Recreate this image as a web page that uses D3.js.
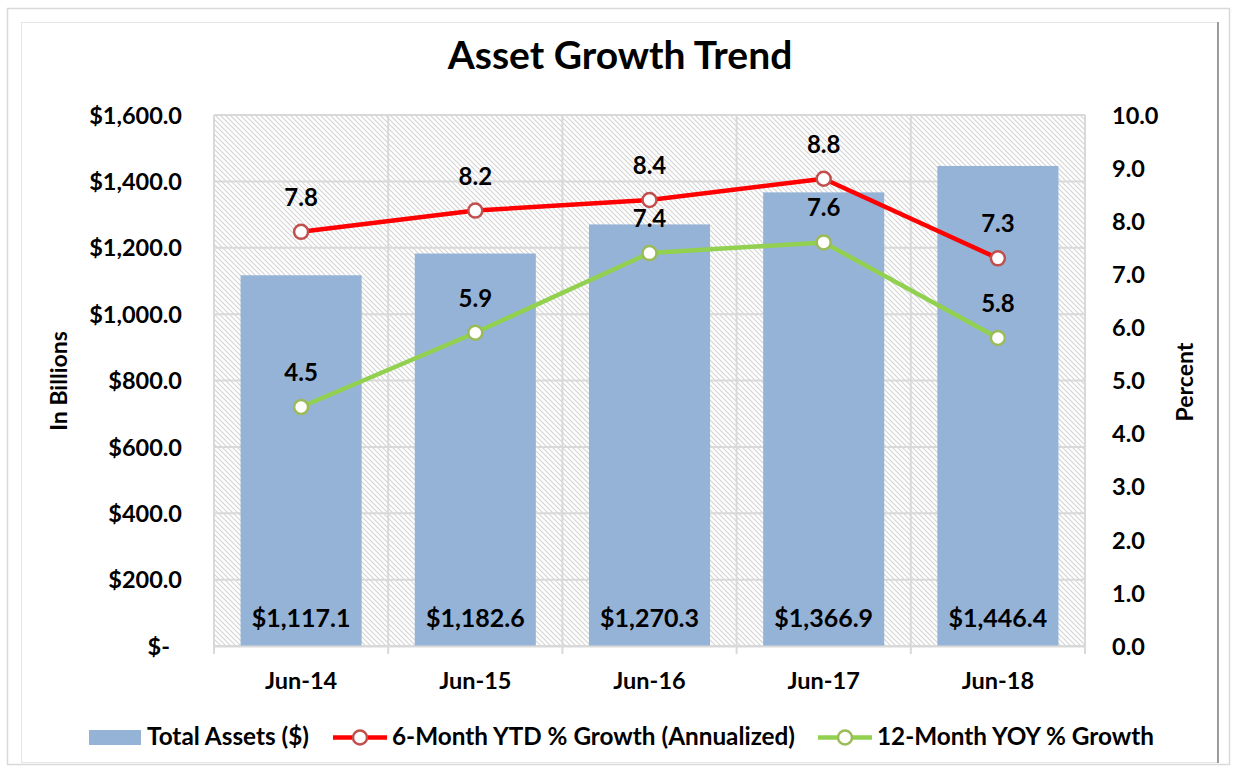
<!DOCTYPE html>
<html><head><meta charset="utf-8">
<script src="https://cdn.jsdelivr.net/npm/d3@7"></script>
<style>
html,body{margin:0;padding:0;background:#fff;}
svg text{font-family:Lato,"Open Sans",sans-serif;font-weight:bold;fill:#000;}
</style></head>
<body><svg id="c" width="1237" height="773"></svg>
<script>
const categories = ["Jun-14","Jun-15","Jun-16","Jun-17","Jun-18"];
const totalAssets = [1117.1, 1182.6, 1270.3, 1366.9, 1446.4];
const ytdGrowth = [7.8, 8.2, 8.4, 8.8, 7.3];
const yoyGrowth = [4.5, 5.9, 7.4, 7.6, 5.8];
const leftTicks = [0,200,400,600,800,1000,1200,1400,1600];
const rightTicks = [0,1,2,3,4,5,6,7,8,9,10];
const seriesNames = ["Total Assets ($)","6-Month YTD % Growth (Annualized)","12-Month YOY % Growth"];

const FS = 23.5;
const svg = d3.select("#c");
// frame
svg.append("rect").attr("x",7.5).attr("y",8.5).attr("width",1222).attr("height",756).attr("fill","#fff").attr("stroke","#d9d9d9").attr("stroke-width",1.5);
svg.append("rect").attr("x",21.5).attr("y",22.5).attr("width",1196).attr("height",740).attr("fill","#fff").attr("stroke","#e6e6e6").attr("stroke-width",1);
svg.append("line").attr("x1",1218).attr("x2",1218).attr("y1",22).attr("y2",763).attr("stroke","#7f7f7f").attr("stroke-width",1.5);

const m={l:214,r:1085,t:115,b:646};
const x=d3.scaleBand().domain(categories).range([m.l,m.r]).paddingInner(0.305).paddingOuter(0.1525);
const xb=d3.scaleBand().domain(categories).range([m.l,m.r]);
const yL=d3.scaleLinear().domain([0,1600]).range([m.b,m.t]);
const yR=d3.scaleLinear().domain([0,10]).range([m.b,m.t]);

// hatch pattern
const defs=svg.append("defs");
const pat=defs.append("pattern").attr("id","hatch").attr("patternUnits","userSpaceOnUse").attr("width",5).attr("height",5);
pat.append("rect").attr("width",5).attr("height",5).attr("fill","#fff");
pat.append("path").attr("d","M-1,-1 L6,6 M-1,4 L1,6 M4,-1 L6,1").attr("stroke","#d4d4d4").attr("stroke-width",1.1);
svg.append("rect").attr("x",m.l).attr("y",m.t).attr("width",m.r-m.l).attr("height",m.b-m.t).attr("fill","url(#hatch)");

// gridlines
svg.append("g").selectAll("line").data(leftTicks).join("line")
  .attr("x1",m.l).attr("x2",m.r).attr("y1",d=>yL(d)).attr("y2",d=>yL(d))
  .attr("stroke","#d9d9d9").attr("stroke-width",2);
const bounds=categories.map(c=>xb(c)).concat([m.r]);
svg.append("g").selectAll("line").data(bounds).join("line")
  .attr("x1",d=>d).attr("x2",d=>d).attr("y1",m.t).attr("y2",m.b+8)
  .attr("stroke","#d9d9d9").attr("stroke-width",2);

// bars
svg.append("g").selectAll("rect").data(totalAssets).join("rect")
  .attr("x",(d,i)=>x(categories[i])).attr("width",x.bandwidth())
  .attr("y",d=>yL(d)).attr("height",d=>m.b-yL(d)).attr("fill","#95B3D7");
svg.append("g").selectAll("text").data(totalAssets).join("text")
  .attr("x",(d,i)=>xb(categories[i])+xb.bandwidth()/2).attr("y",627)
  .attr("text-anchor","middle").attr("font-size",25)
  .text(d=>"$"+d3.format(",.1f")(d));

// axes
const gL=svg.append("g").attr("transform",`translate(${m.l},0)`)
  .call(d3.axisLeft(yL).tickValues(leftTicks).tickSize(0).tickPadding(32)
  .tickFormat(d=>d===0?"$-":"$"+d3.format(",.1f")(d)));
gL.select(".domain").remove();
gL.selectAll("text").attr("font-size",FS).attr("font-family",null).attr("dy","0.35em");
gL.selectAll(".tick").filter(d=>d===0).select("text").attr("dx",-12);

const gR=svg.append("g").attr("transform",`translate(${m.r},0)`)
  .call(d3.axisRight(yR).tickValues(rightTicks).tickSize(0).tickPadding(27).tickFormat(d3.format(".1f")));
gR.select(".domain").remove();
gR.selectAll("text").attr("font-size",FS).attr("font-family",null).attr("dy","0.35em");

const gX=svg.append("g").attr("transform",`translate(0,${m.b})`)
  .call(d3.axisBottom(xb).tickSize(0).tickPadding(0));
gX.select(".domain").attr("stroke","#d9d9d9").attr("stroke-width",2);
gX.selectAll("text").attr("font-size",FS).attr("font-family",null).attr("dy",null).attr("y",43);

// axis titles
svg.append("text").attr("transform","translate(67,381) rotate(-90)").attr("text-anchor","middle").attr("font-size",23).text("In Billions");
svg.append("text").attr("transform","translate(1193,382) rotate(-90)").attr("text-anchor","middle").attr("font-size",23).text("Percent");

// title
svg.append("text").attr("x",620).attr("y",69).attr("text-anchor","middle").attr("font-size",39).text("Asset Growth Trend");

// lines
const cx=(i)=>xb(categories[i])+xb.bandwidth()/2;
function drawLine(vals,color,mstroke){
  const line=d3.line().x((d,i)=>cx(i)).y(d=>yR(d));
  svg.append("path").datum(vals).attr("d",line).attr("fill","none").attr("stroke",color).attr("stroke-width",4.5).attr("stroke-linejoin","round");
  svg.append("g").selectAll("circle").data(vals).join("circle")
    .attr("cx",(d,i)=>cx(i)).attr("cy",d=>yR(d)).attr("r",7)
    .attr("fill","#fff").attr("stroke",mstroke).attr("stroke-width",2.5);
  svg.append("g").selectAll("text").data(vals).join("text")
    .attr("x",(d,i)=>cx(i)).attr("y",d=>yR(d)-26)
    .attr("text-anchor","middle").attr("font-size",24).text(d=>d3.format(".1f")(d));
}
drawLine(yoyGrowth,"#92D050","#9BBB59");
drawLine(ytdGrowth,"#FF0000","#C0504D");

// legend
const LFS = 24.3;
const lg=svg.append("g");
lg.append("rect").attr("x",89).attr("y",730).attr("width",52).attr("height",15).attr("fill","#95B3D7");
lg.append("text").attr("x",147).attr("y",745).attr("font-size",LFS).text(seriesNames[0]);
function legLine(x0,color,ms){
  lg.append("line").attr("x1",x0).attr("x2",x0+54).attr("y1",737.5).attr("y2",737.5).attr("stroke",color).attr("stroke-width",4.5);
  lg.append("circle").attr("cx",x0+27).attr("cy",737.5).attr("r",7).attr("fill","#fff").attr("stroke",ms).attr("stroke-width",2.5);
}
legLine(333,"#FF0000","#C0504D");
lg.append("text").attr("x",392).attr("y",745).attr("font-size",LFS).text(seriesNames[1]);
legLine(818,"#92D050","#9BBB59");
lg.append("text").attr("x",877).attr("y",745).attr("font-size",LFS).text(seriesNames[2]);
</script></body></html>
